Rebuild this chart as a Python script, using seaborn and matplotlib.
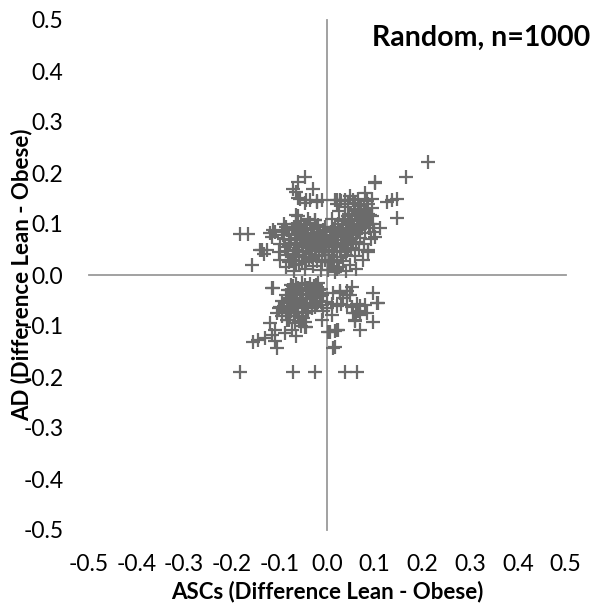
import numpy as np
import pandas as pd
import seaborn as sns
import matplotlib.pyplot as plt
from matplotlib.ticker import FormatStrFormatter

# points: ASCs difference (x) and AD difference (y)
# upper-left cloud
ul_x = [-0.095, -0.090, -0.088, -0.085, -0.082, -0.080, -0.078, -0.075, -0.073, -0.070,
        -0.068, -0.066, -0.064, -0.062, -0.060, -0.058, -0.056, -0.054, -0.052, -0.050,
        -0.048, -0.046, -0.044, -0.042, -0.040, -0.038, -0.036, -0.034, -0.032, -0.030,
        -0.028, -0.026, -0.024, -0.022, -0.020, -0.018, -0.016, -0.014, -0.012, -0.010,
        -0.008, -0.006, -0.004, -0.002, -0.085, -0.070, -0.055, -0.040, -0.025, -0.090,
        -0.098, -0.100,
        -0.092, -0.087, -0.083, -0.079, -0.076, -0.072, -0.069, -0.067, -0.063, -0.061,
        -0.059, -0.057, -0.053, -0.051, -0.049, -0.047, -0.045, -0.043, -0.041, -0.039,
        -0.037, -0.035, -0.033, -0.031, -0.029, -0.027, -0.023, -0.021, -0.019, -0.017,
        -0.015, -0.013, -0.011, -0.009, -0.007, -0.005, -0.003, -0.080, -0.066, -0.050,
        -0.046, -0.060, -0.072, -0.064, -0.030, -0.057, -0.043, -0.020, 0.020, -0.060,
        -0.025, -0.182, -0.165, -0.114, -0.116, -0.140, -0.126, -0.133, -0.158, -0.099,
        -0.061, -0.046, -0.036, -0.021, -0.064, -0.109, -0.119, -0.011, -0.137]
ul_y = [0.085, 0.070, 0.055, 0.095, 0.040, 0.078, 0.062, 0.030, 0.090, 0.050,
        0.072, 0.100, 0.020, 0.060, 0.085, 0.040, 0.068, 0.095, 0.028, 0.055,
        0.078, 0.012, 0.045, 0.088, 0.065, 0.032, 0.102, 0.052, 0.075, 0.018,
        0.090, 0.040, 0.062, 0.082, 0.028, 0.098, 0.055, 0.070, 0.010, 0.045,
        0.088, 0.065, 0.030, 0.078, 0.015, 0.008, 0.105, 0.110, 0.108, 0.100,
        0.060, 0.045,
        0.078, 0.048, 0.088, 0.025, 0.068, 0.042, 0.095, 0.035, 0.080, 0.048,
        0.022, 0.092, 0.062, 0.082, 0.035, 0.068, 0.098, 0.025, 0.055, 0.080,
        0.042, 0.070, 0.090, 0.035, 0.060, 0.078, 0.048, 0.095, 0.068, 0.038,
        0.085, 0.058, 0.025, 0.075, 0.050, 0.095, 0.060, 0.058, 0.058, 0.045,
        0.193, 0.183, 0.168, 0.163, 0.168, 0.150, 0.147, 0.146, 0.148, 0.116,
        0.108, 0.080, 0.080, 0.088, 0.075, 0.049, 0.049, 0.042, 0.020, 0.029,
        0.151, 0.141, 0.147, 0.143, 0.118, 0.085, 0.082, 0.147, 0.049]

# upper-right cloud
ur_x = [0.002, 0.005, 0.008, 0.010, 0.012, 0.014, 0.016, 0.018, 0.020, 0.022,
        0.024, 0.026, 0.028, 0.030, 0.032, 0.034, 0.036, 0.038, 0.040, 0.042,
        0.044, 0.046, 0.048, 0.050, 0.052, 0.054, 0.056, 0.058, 0.060, 0.062,
        0.064, 0.066, 0.068, 0.070, 0.072, 0.074, 0.076, 0.078, 0.080, 0.082,
        0.084, 0.086, 0.088, 0.090, 0.092, 0.094, 0.096, 0.098, 0.060, 0.040,
        0.075, 0.085, 0.010, 0.025, 0.020,
        0.004, 0.006, 0.009, 0.011, 0.013, 0.015, 0.017, 0.019, 0.021, 0.023,
        0.027, 0.029, 0.031, 0.033, 0.035, 0.037, 0.039, 0.041, 0.043, 0.045,
        0.047, 0.049, 0.051, 0.053, 0.055, 0.057, 0.059, 0.061, 0.063, 0.065,
        0.067, 0.069, 0.071, 0.073, 0.077, 0.079, 0.081, 0.083, 0.087, 0.091,
        0.095, 0.058, 0.045, 0.030,
        0.212, 0.166, 0.101, 0.147, 0.136, 0.125, 0.146, 0.111, 0.101, 0.087,
        0.017, 0.027, 0.038, 0.048, 0.055, 0.080, 0.038, 0.065, 0.094, 0.101]
ur_y = [0.010, 0.040, 0.070, 0.025, 0.090, 0.055, 0.005, 0.080, 0.035, 0.062,
        0.100, 0.015, 0.048, 0.075, 0.092, 0.028, 0.058, 0.110, 0.040, 0.085,
        0.068, 0.120, 0.020, 0.052, 0.098, 0.078, 0.130, 0.038, 0.065, 0.108,
        0.088, 0.122, 0.050, 0.072, 0.135, 0.095, 0.115, 0.060, 0.082, 0.128,
        0.105, 0.140, 0.092, 0.118, 0.070, 0.132, 0.100, 0.085, 0.012, 0.008,
        0.030, 0.045, 0.110, 0.125, 0.140,
        0.055, 0.025, 0.085, 0.045, 0.068, 0.030, 0.095, 0.058, 0.012, 0.078,
        0.088, 0.035, 0.060, 0.105, 0.075, 0.045, 0.090, 0.065, 0.115, 0.050,
        0.082, 0.100, 0.070, 0.118, 0.060, 0.092, 0.125, 0.080, 0.098, 0.110,
        0.138, 0.090, 0.120, 0.105, 0.130, 0.098, 0.112, 0.145, 0.120, 0.100,
        0.115, 0.142, 0.140, 0.145,
        0.222, 0.192, 0.183, 0.150, 0.147, 0.144, 0.111, 0.092, 0.075, 0.049,
        0.148, 0.148, 0.148, 0.154, 0.148, 0.160, 0.134, 0.150, 0.150, 0.180]

# lower-left cloud
ll_x = [-0.082, -0.078, -0.075, -0.072, -0.070, -0.066, -0.064, -0.062, -0.060, -0.058,
        -0.055, -0.052, -0.050, -0.048, -0.045, -0.042, -0.040, -0.038, -0.035, -0.032,
        -0.030, -0.028, -0.025, -0.022, -0.020, -0.018, -0.015, -0.012, -0.010, -0.008,
        -0.090, -0.085, -0.080, -0.075, -0.068, -0.060, -0.055, -0.050, -0.045, -0.095,
        -0.100,
        -0.086, -0.081, -0.077, -0.074, -0.071, -0.068, -0.065, -0.063, -0.061, -0.057,
        -0.054, -0.051, -0.047, -0.044, -0.041, -0.039, -0.036, -0.033, -0.031, -0.027,
        -0.024, -0.021, -0.017, -0.014, -0.011, -0.070, -0.064, -0.058, -0.052, -0.047,
        -0.083, -0.078,
        -0.113, -0.099, -0.105, -0.095, -0.084, -0.043, -0.011, -0.109, -0.088, -0.074,
        -0.116, -0.130, -0.144, -0.155, -0.105, -0.182, -0.071, -0.025, -0.116, -0.046,
        -0.008, -0.120, -0.110, -0.065]
ll_y = [-0.030, -0.045, -0.020, -0.058, -0.035, -0.050, -0.018, -0.040, -0.065, -0.028,
        -0.052, -0.015, -0.038, -0.060, -0.025, -0.048, -0.070, -0.032, -0.018, -0.055,
        -0.040, -0.022, -0.062, -0.035, -0.050, -0.015, -0.042, -0.028, -0.058, -0.036,
        -0.060, -0.075, -0.088, -0.070, -0.095, -0.080, -0.100, -0.085, -0.075, -0.050,
        -0.065,
        -0.040, -0.055, -0.030, -0.048, -0.022, -0.062, -0.035, -0.055, -0.025, -0.045,
        -0.030, -0.058, -0.020, -0.040, -0.060, -0.025, -0.048, -0.030, -0.065, -0.045,
        -0.020, -0.058, -0.030, -0.050, -0.040, -0.080, -0.072, -0.090, -0.072, -0.092,
        -0.065, -0.080,
        -0.026, -0.062, -0.075, -0.080, -0.088, -0.101, -0.088, -0.108, -0.114, -0.108,
        -0.118, -0.124, -0.127, -0.131, -0.144, -0.190, -0.190, -0.190, -0.025, -0.101,
        -0.071, -0.095, -0.130, -0.120]

# lower-right cloud
lr_x = [0.003, 0.013, 0.052, 0.097, 0.106, 0.013, 0.027, 0.041, 0.055, 0.061,
        0.059, 0.097, 0.069, 0.083, 0.010, 0.020, 0.006, 0.017, 0.038, 0.062,
        0.027, 0.041, 0.048, 0.010, 0.020, 0.030, 0.041, 0.052, 0.062, 0.069,
        0.080, 0.104, 0.066, 0.069, 0.059, 0.024, 0.017, -0.001, -0.001, 0.034]
lr_y = [-0.111, -0.144, -0.023, -0.036, -0.054, -0.036, -0.036, -0.039, -0.075, -0.075,
        -0.088, -0.092, -0.108, -0.075, -0.078, -0.108, -0.111, -0.141, -0.190, -0.190,
        -0.032, -0.032, -0.039, -0.056, -0.060, -0.056, -0.058, -0.062, -0.056, -0.060,
        -0.058, -0.055, -0.071, -0.078, -0.091, -0.107, -0.110, -0.052, -0.065, -0.045]

tick_vals = [-0.5, -0.4, -0.3, -0.2, -0.1, 0.0, 0.1, 0.2, 0.3, 0.4, 0.5]

df = pd.DataFrame({
    'asc': ul_x + ur_x + ll_x + lr_x,
    'ad': ul_y + ur_y + ll_y + lr_y,
})

sns.set_style('white')
plt.rcParams['font.family'] = ['Lato', 'DejaVu Sans']
plt.rcParams['axes.unicode_minus'] = False
plt.rcParams['text.color'] = 'black'
plt.rcParams['axes.labelcolor'] = 'black'

fig = plt.figure(figsize=(5.97, 6.05), dpi=100)
ax = fig.add_axes([88.5 / 597, 1 - 530 / 605, 477 / 597, 510 / 605])

sns.scatterplot(data=df, x='asc', y='ad', marker='+', s=90, color='#6b6b6b',
                linewidth=1.6, ax=ax, zorder=3)

ax.set_xlim(-0.5, 0.5)
ax.set_ylim(-0.5, 0.5)
ax.set_xticks(tick_vals)
ax.set_yticks(tick_vals)

# axes crossing at zero, Excel style
axis_grey = '#9a9a9a'
for side in ['top', 'right']:
    ax.spines[side].set_visible(False)
ax.spines['left'].set_position(('data', 0))
ax.spines['bottom'].set_position(('data', 0))
ax.spines['left'].set_color(axis_grey)
ax.spines['bottom'].set_color(axis_grey)
ax.spines['left'].set_linewidth(1.3)
ax.spines['bottom'].set_linewidth(1.3)
ax.tick_params(axis='both', direction='out', length=6, width=1.3, color=axis_grey,
               labelleft=False, labelbottom=False)

# tick labels at the low edges
sec_x = ax.secondary_xaxis('bottom')
sec_x.set_xticks(tick_vals)
sec_x.xaxis.set_major_formatter(FormatStrFormatter('%.1f'))
sec_x.tick_params(length=0, pad=17, labelsize=16.5, labelcolor='black')
sec_x.spines[:].set_visible(False)

sec_y = ax.secondary_yaxis('left')
sec_y.set_yticks(tick_vals)
sec_y.yaxis.set_major_formatter(FormatStrFormatter('%.1f'))
sec_y.tick_params(length=0, pad=18, labelsize=16.5, labelcolor='black')
sec_y.spines[:].set_visible(False)

ax.set_xlabel('ASCs (Difference Lean - Obese)', fontsize=16, fontweight='bold', color='black')
ax.set_ylabel('AD (Difference Lean - Obese)', fontsize=16, fontweight='bold', color='black')
ax.xaxis.set_label_coords(0.5, -0.1)
ax.yaxis.set_label_coords(-0.118, 0.5)
ax.yaxis.label.set_zorder(10)

fig.text(590 / 597, 1 - 46 / 605, 'Random, n=1000', ha='right', va='baseline',
         fontsize=20.5, fontweight='bold', color='black')

fig.savefig('out.png', dpi=100)
